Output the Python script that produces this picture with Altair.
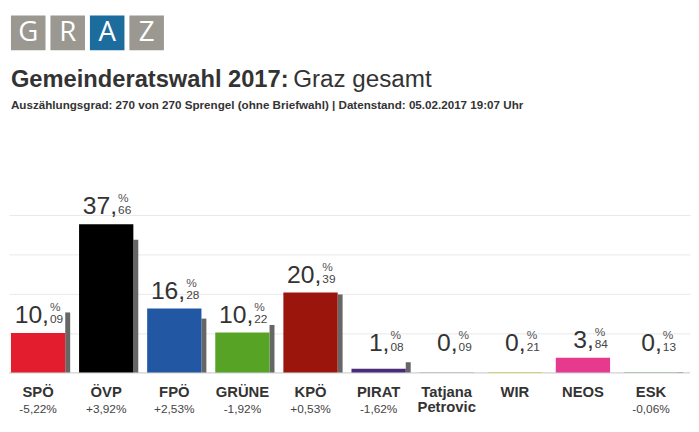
import altair as alt
import pandas as pd

# ---- data ----
parties = ["SPÖ", "ÖVP", "FPÖ", "GRÜNE", "KPÖ", "PIRAT", "Tatjana Petrovic", "WIR", "NEOS", "ESK"]
name_labels = ["SPÖ", "ÖVP", "FPÖ", "GRÜNE", "KPÖ", "PIRAT", "Tatjana\nPetrovic", "WIR", "NEOS", "ESK"]
values = [10.09, 37.66, 16.28, 10.22, 20.39, 1.08, 0.09, 0.21, 3.84, 0.13]
previous = [15.31, 33.74, 13.75, 12.14, 19.86, 2.70, None, None, None, 0.19]
changes = ["-5,22%", "+3,92%", "+2,53%", "-1,92%", "+0,53%", "-1,62%", "", "", "", "-0,06%"]
int_parts = ["10,", "37,", "16,", "10,", "20,", "1,", "0,", "0,", "3,", "0,"]
dec_parts = ["09", "66", "28", "22", "39", "08", "09", "21", "84", "13"]
colors = ["#e31d2d", "#000000", "#2258a3", "#56a326", "#9b150c", "#4a2b7a",
          "#9a9a9a", "#e6e617", "#e63a8f", "#3c9e34"]

letters = ["G", "R", "A", "Z"]
letter_colors = ["#9b9892", "#9b9892", "#1c6c9e", "#9b9892"]

title_bold = "Gemeinderatswahl 2017:"
title_rest = "Graz gesamt"
subtitle = "Auszählungsgrad: 270 von 270 Sprengel (ohne Briefwahl) | Datenstand: 05.02.2017 19:07 Uhr"

FONT = "Liberation Sans"
W = 690

df = pd.DataFrame({
    "party": parties,
    "name": name_labels,
    "value": values,
    "prev": previous,
    "change": changes,
    "ip": int_parts,
    "dp": dec_parts,
})
df["labpos"] = [max(v, 3.0) for v in values]

logo_df = pd.DataFrame({"letter": letters, "col": letter_colors})

# ---- header ----
lx = alt.X("letter:N", sort=letters,
           scale=alt.Scale(paddingInner=0.125, paddingOuter=0, range=[2, 157]),
           axis=None)

logo_boxes = alt.Chart(logo_df).mark_rect().encode(
    x=lx, y=alt.value(5), y2=alt.value(40),
    color=alt.Color("col:N", scale=None, legend=None),
)
logo_text = alt.Chart(logo_df).mark_text(
    font="Open Sans", fontWeight="normal", fontSize=28, color="white",
    baseline="alphabetic", align="center",
).encode(x=lx, y=alt.value(31), text="letter:N")

t1 = alt.Chart(pd.DataFrame({"t": [title_bold]})).mark_text(
    font=FONT, fontWeight="bold", fontSize=24, color="#333333",
    align="left", baseline="alphabetic",
).encode(x=alt.value(2), y=alt.value(77), text="t:N")
t2 = alt.Chart(pd.DataFrame({"t": [title_rest]})).mark_text(
    font=FONT, fontWeight="normal", fontSize=24.5, color="#333333",
    align="left", baseline="alphabetic",
).encode(x=alt.value(288), y=alt.value(77), text="t:N")
t3 = alt.Chart(pd.DataFrame({"t": [subtitle]})).mark_text(
    font=FONT, fontWeight="bold", fontSize=11.8, color="#333333",
    align="left", baseline="alphabetic",
).encode(x=alt.value(2), y=alt.value(100), text="t:N")

header = alt.layer(logo_boxes, logo_text, t1, t2, t3).properties(width=W, height=184)

# ---- bars ----
x = alt.X("party:N", sort=parties, scale=alt.Scale(paddingInner=0, paddingOuter=0), axis=None)
yscale = alt.Scale(domain=[0, 45], nice=False)

base = alt.Chart(df)

grid = base.mark_bar(opacity=0).encode(
    x=x,
    y=alt.Y("value:Q", scale=yscale,
            axis=alt.Axis(values=[10, 20, 30, 40], grid=True, gridColor="#e9e9e9",
                          labels=False, ticks=False, domain=False, title=None)),
)

shadow = base.transform_filter("isValid(datum.prev)").mark_bar(
    width=5, xOffset=25, color="#666666"
).encode(x=x, y=alt.Y("prev:Q", scale=yscale))

bars = base.mark_bar(width=55, xOffset=-5).encode(
    x=x,
    y=alt.Y("value:Q", scale=yscale),
    color=alt.Color("party:N", scale=alt.Scale(domain=parties, range=colors), legend=None),
)

baseline = alt.Chart(pd.DataFrame({"z": [0]})).mark_rule(color="#c4c4c4", strokeWidth=1).encode(
    y=alt.Y("z:Q", scale=yscale)
)

int_lab = base.mark_text(font=FONT, fontSize=25, color="#333333", align="right",
                         baseline="alphabetic", dx=6, dy=-10).encode(
    x=x, y=alt.Y("labpos:Q", scale=yscale), text="ip:N")
dec_lab = base.mark_text(font=FONT, fontSize=12, color="#444444", align="left",
                         baseline="alphabetic", dx=7, dy=-10).encode(
    x=x, y=alt.Y("labpos:Q", scale=yscale), text="dp:N")
pct_lab = base.mark_text(font=FONT, fontSize=12, color="#555555", align="left",
                         baseline="alphabetic", dx=7, dy=-22).encode(
    x=x, y=alt.Y("labpos:Q", scale=yscale), text=alt.value("%"))

name_lab = base.mark_text(font=FONT, fontSize=15, fontWeight="bold", color="#333333",
                          align="center", baseline="alphabetic", dx=-5, dy=24,
                          lineBreak="\n", lineHeight=16).encode(
    x=x, y=alt.datum(0), text="name:N")
chg_lab = base.mark_text(font=FONT, fontSize=12, color="#444444",
                         align="center", baseline="alphabetic", dx=-5, dy=41).encode(
    x=x, y=alt.datum(0), text="change:N")

barchart = alt.layer(grid, shadow, bars, baseline, int_lab, dec_lab, pct_lab,
                     name_lab, chg_lab).properties(width=W, height=180)

chart = alt.vconcat(header, barchart, spacing=0).properties(
    padding=0, background="white"
).configure_view(stroke=None).configure_concat(spacing=0)

chart.save("out.html", embed_options={"renderer": "svg", "actions": False})
